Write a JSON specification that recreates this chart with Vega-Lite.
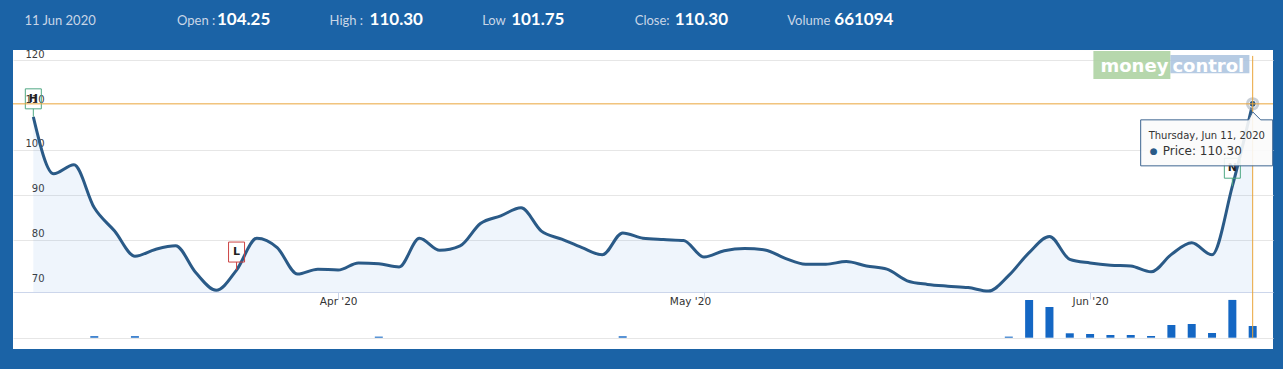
{
  "$schema": "https://vega.github.io/schema/vega-lite/v6.json",
  "background": "#1b63a6",
  "padding": {"left": 12, "right": 11, "top": 0, "bottom": 21},
  "spacing": 0,
  "config": {
    "view": {"stroke": null},
    "axis": {"minExtent": 0, "labelFont": "DejaVu Sans"},
    "text": {"font": "DejaVu Sans"}
  },
  "datasets": {
    "header": [
      {"label": "11 Jun 2020", "value": ""},
      {"label": "Open :", "value": "104.25"},
      {"label": "High :", "value": "110.30"},
      {"label": "Low", "value": "101.75"},
      {"label": "Close:", "value": "110.30"},
      {"label": "Volume", "value": "661094"}
    ],
    "prices": [
      {"date": "2020-03-11", "price": 107.4},
      {"date": "2020-03-12", "price": 94.7},
      {"date": "2020-03-13", "price": 96.7},
      {"date": "2020-03-16", "price": 87.1, "volume": 85000},
      {"date": "2020-03-17", "price": 81.9},
      {"date": "2020-03-18", "price": 76.3, "volume": 85000},
      {"date": "2020-03-19", "price": 77.8},
      {"date": "2020-03-20", "price": 78.6},
      {"date": "2020-03-23", "price": 72.6},
      {"date": "2020-03-24", "price": 68.7},
      {"date": "2020-03-25", "price": 73.2},
      {"date": "2020-03-26", "price": 80.3},
      {"date": "2020-03-27", "price": 78.2},
      {"date": "2020-03-30", "price": 72.3},
      {"date": "2020-03-31", "price": 73.4},
      {"date": "2020-04-01", "price": 73.2},
      {"date": "2020-04-03", "price": 74.8},
      {"date": "2020-04-07", "price": 74.6, "volume": 60000},
      {"date": "2020-04-08", "price": 73.9},
      {"date": "2020-04-09", "price": 80.3},
      {"date": "2020-04-13", "price": 77.6},
      {"date": "2020-04-15", "price": 78.6},
      {"date": "2020-04-16", "price": 83.6},
      {"date": "2020-04-17", "price": 85.3},
      {"date": "2020-04-20", "price": 87.1},
      {"date": "2020-04-21", "price": 81.9},
      {"date": "2020-04-22", "price": 80.1},
      {"date": "2020-04-23", "price": 78.2},
      {"date": "2020-04-24", "price": 76.6},
      {"date": "2020-04-27", "price": 81.5, "volume": 80000},
      {"date": "2020-04-28", "price": 80.3},
      {"date": "2020-04-29", "price": 80.0},
      {"date": "2020-04-30", "price": 79.8},
      {"date": "2020-05-04", "price": 76.1},
      {"date": "2020-05-05", "price": 77.5},
      {"date": "2020-05-06", "price": 78.0},
      {"date": "2020-05-07", "price": 77.7},
      {"date": "2020-05-08", "price": 75.8},
      {"date": "2020-05-11", "price": 74.5},
      {"date": "2020-05-12", "price": 74.5},
      {"date": "2020-05-13", "price": 75.1},
      {"date": "2020-05-14", "price": 74.1},
      {"date": "2020-05-15", "price": 73.4},
      {"date": "2020-05-18", "price": 70.8},
      {"date": "2020-05-19", "price": 70.0},
      {"date": "2020-05-20", "price": 69.6},
      {"date": "2020-05-21", "price": 69.3},
      {"date": "2020-05-22", "price": 68.5},
      {"date": "2020-05-26", "price": 72.0, "volume": 60000},
      {"date": "2020-05-27", "price": 77.1, "volume": 2130000},
      {"date": "2020-05-28", "price": 80.7, "volume": 1735000},
      {"date": "2020-05-29", "price": 75.6, "volume": 249000},
      {"date": "2020-06-01", "price": 74.8, "volume": 209000},
      {"date": "2020-06-02", "price": 74.3, "volume": 153000},
      {"date": "2020-06-03", "price": 74.1, "volume": 153000},
      {"date": "2020-06-04", "price": 72.8, "volume": 96000},
      {"date": "2020-06-05", "price": 76.7, "volume": 718000},
      {"date": "2020-06-08", "price": 79.3, "volume": 774000},
      {"date": "2020-06-09", "price": 76.6, "volume": 266000},
      {"date": "2020-06-10", "price": 91.92, "volume": 2135000},
      {"date": "2020-06-11", "price": 110.3, "volume": 661094}
    ],
    "flags": [
      {"date": "2020-03-11", "price": 107.4, "flag": "H"},
      {"date": "2020-03-25", "price": 73.2, "flag": "L"},
      {"date": "2020-06-10", "price": 91.92, "flag": "N"}
    ],
    "tip": [
      {"date": "2020-06-11", "price": 110.3, "head": "Thursday, Jun 11, 2020", "body": "Price: 110.30"}
    ],
    "brand": [
      {"a": "money", "b": "control"}
    ]
  },
  "vconcat": [
    {
      "width": 1068,
      "height": 49,
      "data": {"name": "header"},
      "layer": [
        {
          "mark": {"type": "text", "align": "left", "baseline": "alphabetic", "font": "Lato", "fontSize": 13, "color": "#c9d6e6"},
          "encoding": {
            "x": {"field": "label", "type": "ordinal", "scale": {"type": "point", "domain": ["11 Jun 2020", "Open :", "High :", "Low", "Close:", "Volume"], "padding": 1, "align": 0.0374, "round": false}, "axis": null},
            "text": {"field": "label"}
          }
        },
        {
          "transform": [{"filter": "datum.label == 'Open :' || datum.label == 'High :' || datum.label == 'Close:'"}],
          "mark": {"type": "text", "align": "left", "baseline": "alphabetic", "font": "Lato", "fontSize": 17, "fontWeight": "bold", "color": "#ffffff", "dx": 40},
          "encoding": {
            "x": {"field": "label", "type": "ordinal", "scale": {"type": "point", "domain": ["11 Jun 2020", "Open :", "High :", "Low", "Close:", "Volume"], "padding": 1, "align": 0.0374, "round": false}, "axis": null},
            "text": {"field": "value"}
          }
        },
        {
          "transform": [{"filter": "datum.label == 'Low'"}],
          "mark": {"type": "text", "align": "left", "baseline": "alphabetic", "font": "Lato", "fontSize": 17, "fontWeight": "bold", "color": "#ffffff", "dx": 29},
          "encoding": {
            "x": {"field": "label", "type": "ordinal", "scale": {"type": "point", "domain": ["11 Jun 2020", "Open :", "High :", "Low", "Close:", "Volume"], "padding": 1, "align": 0.0374, "round": false}, "axis": null},
            "text": {"field": "value"}
          }
        },
        {
          "transform": [{"filter": "datum.label == 'Volume'"}],
          "mark": {"type": "text", "align": "left", "baseline": "alphabetic", "font": "Lato", "fontSize": 17, "fontWeight": "bold", "color": "#ffffff", "dx": 47},
          "encoding": {
            "x": {"field": "label", "type": "ordinal", "scale": {"type": "point", "domain": ["11 Jun 2020", "Open :", "High :", "Low", "Close:", "Volume"], "padding": 1, "align": 0.0374, "round": false}, "axis": null},
            "text": {"field": "value"}
          }
        }
      ]
    },
    {
      "width": 1260,
      "height": 299,
      "view": {"fill": "#ffffff", "stroke": null},
      "resolve": {"scale": {"y": "independent"}},
      "layer": [
        {
          "layer": [
            {
              "data": {"name": "brand"},
              "mark": {"type": "point", "shape": "M-1.56,-0.42 L-0.02,-0.42 L-0.02,0.14 L-1.56,0.14 Z", "size": 10000, "filled": true, "fill": "#a9d09e", "opacity": 0.85, "strokeWidth": 0},
              "encoding": {
                "x": {"datum": "2020-06-05", "type": "ordinal", "scale": {"type": "point", "padding": 1, "round": false}},
                "y": {"datum": 117.4, "type": "quantitative", "scale": {"domain": [55.58, 122.32], "nice": false, "zero": false}}
              }
            },
            {
              "data": {"name": "brand"},
              "mark": {"type": "point", "shape": "M-0.02,-0.34 L1.56,-0.34 L1.56,0.026 L-0.02,0.026 Z", "size": 10000, "filled": true, "fill": "#a9c2de", "opacity": 0.85, "strokeWidth": 0},
              "encoding": {
                "x": {"datum": "2020-06-05", "type": "ordinal"},
                "y": {"datum": 117.4, "type": "quantitative", "scale": {"domain": [55.58, 122.32], "nice": false, "zero": false}}
              }
            },
            {
              "data": {"name": "brand"},
              "mark": {"type": "text", "align": "right", "baseline": "alphabetic", "dx": -3, "font": "DejaVu Sans", "fontSize": 18, "fontWeight": "bold", "color": "#ffffff"},
              "encoding": {
                "x": {"datum": "2020-06-05", "type": "ordinal"},
                "y": {"datum": 117.4, "type": "quantitative", "scale": {"domain": [55.58, 122.32], "nice": false, "zero": false}},
                "text": {"field": "a"}
              }
            },
            {
              "data": {"name": "brand"},
              "mark": {"type": "text", "align": "left", "baseline": "alphabetic", "dx": 1, "font": "DejaVu Sans", "fontSize": 18, "fontWeight": "bold", "color": "#ffffff"},
              "encoding": {
                "x": {"datum": "2020-06-05", "type": "ordinal"},
                "y": {"datum": 117.4, "type": "quantitative", "scale": {"domain": [55.58, 122.32], "nice": false, "zero": false}},
                "text": {"field": "b"}
              }
            },
            {
              "data": {"name": "prices"},
              "mark": {"type": "area", "interpolate": "monotone", "fill": "#2f7ed8", "fillOpacity": 0.08, "strokeWidth": 0},
              "encoding": {
                "x": {
                  "field": "date", "type": "ordinal",
                  "scale": {"type": "point", "padding": 1, "round": false},
                  "axis": {
                    "orient": "bottom", "offset": -57,
                    "values": ["2020-04-01", "2020-05-04", "2020-06-01"],
                    "labelExpr": "datum.value == '2020-04-01' ? \"Apr '20\" : (datum.value == '2020-05-04' ? \"May '20\" : \"Jun '20\")",
                    "labelOffset": {"condition": {"test": "datum.value == '2020-05-04'", "value": -14}, "value": 0},
                    "labelAlign": "center",
                    "labelAngle": 0, "labelPadding": 2, "labelFontSize": 10.5, "labelColor": "#333333",
                    "domainColor": "#ccd6eb", "tickColor": "#ccd6eb", "tickSize": 7, "grid": false, "title": null
                  }
                },
                "y": {
                  "field": "price", "type": "quantitative",
                  "scale": {"domain": [55.58, 122.32], "nice": false, "zero": false},
                  "axis": {
                    "orient": "left", "values": [70, 80, 90, 100, 110, 120],
                    "grid": true,
                    "gridColor": {"condition": {"test": "datum.value == 70 || datum.value == 110", "value": "transparent"}, "value": "#e6e6e6"},
                    "domain": false, "ticks": false, "tickSize": 0,
                    "labelPadding": -31, "labelAlign": "right", "labelBaseline": "alphabetic", "labelOffset": -3,
                    "labelFontSize": 10, "labelColor": "#3a3a3a", "title": null, "minExtent": 0
                  }
                },
                "y2": {"datum": 68.3}
              }
            },
            {
              "data": {"name": "prices"},
              "mark": {"type": "line", "interpolate": "monotone", "stroke": "#2a5a87", "strokeWidth": 3},
              "encoding": {
                "x": {"field": "date", "type": "ordinal"},
                "y": {"field": "price", "type": "quantitative", "scale": {"domain": [55.58, 122.32], "nice": false, "zero": false}}
              }
            },
            {
              "data": {"name": "flags"},
              "mark": {"type": "point", "shape": "M0,0 L0,-0.8 M-0.8,-0.8 L0.8,-0.8 L0.8,-2.8 L-0.8,-2.8 Z", "size": 400, "filled": false, "fill": "#ffffff", "fillOpacity": 0, "strokeWidth": 1, "opacity": 1},
              "encoding": {
                "x": {"field": "date", "type": "ordinal"},
                "y": {"field": "price", "type": "quantitative", "scale": {"domain": [55.58, 122.32], "nice": false, "zero": false}},
                "stroke": {"field": "flag", "type": "nominal", "scale": {"domain": ["H", "L", "N"], "range": ["#4fa883", "#cc4444", "#4fa883"]}, "legend": null}
              }
            },
            {
              "data": {"name": "flags"},
              "mark": {"type": "text", "align": "center", "baseline": "middle", "dy": -18, "font": "DejaVu Sans", "fontSize": 11, "fontWeight": "bold", "color": "#222222"},
              "encoding": {
                "x": {"field": "date", "type": "ordinal"},
                "y": {"field": "price", "type": "quantitative", "scale": {"domain": [55.58, 122.32], "nice": false, "zero": false}},
                "text": {"field": "flag"}
              }
            }
          ]
        },
        {
          "data": {"name": "prices"},
          "transform": [{"filter": "isValid(datum.volume)"}],
          "mark": {"type": "bar", "size": 8, "color": "#1467c4"},
          "encoding": {
            "x": {"field": "date", "type": "ordinal"},
            "y": {
              "field": "volume", "type": "quantitative",
              "scale": {"domain": [-638450, 16255050], "nice": false, "zero": false},
              "axis": {"orient": "right", "values": [0], "grid": true, "gridColor": "#e6e6e6", "labels": false, "ticks": false, "domain": false, "title": null, "minExtent": 0}
            },
            "y2": {"datum": 0}
          }
        },
        {
          "data": {"name": "tip"},
          "layer": [
            {
              "mark": {"type": "point", "shape": "circle", "size": 180, "filled": true, "fill": "#9aa5b3", "opacity": 0.55, "strokeWidth": 0},
              "encoding": {
                "x": {"field": "date", "type": "ordinal"},
                "y": {"field": "price", "type": "quantitative", "scale": {"domain": [55.58, 122.32], "nice": false, "zero": false}, "axis": null}
              }
            },
            {
              "mark": {"type": "point", "shape": "circle", "size": 50, "filled": true, "fill": "#2a5a87", "stroke": "#ffffff", "strokeWidth": 1, "opacity": 1},
              "encoding": {
                "x": {"field": "date", "type": "ordinal"},
                "y": {"field": "price", "type": "quantitative", "scale": {"domain": [55.58, 122.32], "nice": false, "zero": false}, "axis": null}
              }
            },
            {
              "mark": {"type": "rule", "color": "#eaa53a", "strokeWidth": 1},
              "encoding": {
                "y": {"field": "price", "type": "quantitative", "scale": {"domain": [55.58, 122.32], "nice": false, "zero": false}, "axis": null}
              }
            },
            {
              "mark": {"type": "rule", "color": "#eaa53a", "strokeWidth": 1},
              "encoding": {
                "x": {"field": "date", "type": "ordinal"},
                "y": {"datum": 121, "type": "quantitative", "scale": {"domain": [55.58, 122.32], "nice": false, "zero": false}, "axis": null},
                "y2": {"datum": 58}
              }
            },
            {
              "mark": {"type": "point", "shape": "M-2.24,0.32 L-0.08,0.32 L0,0.16 L0.16,0.32 L0.4,0.32 L0.4,1.24 L-2.24,1.24 Z", "size": 10000, "filled": true, "fill": "#fbfbfb", "fillOpacity": 0.9, "stroke": "#3d6590", "strokeWidth": 1, "opacity": 1},
              "encoding": {
                "x": {"field": "date", "type": "ordinal"},
                "y": {"field": "price", "type": "quantitative", "scale": {"domain": [55.58, 122.32], "nice": false, "zero": false}, "axis": null}
              }
            },
            {
              "mark": {"type": "text", "align": "left", "baseline": "alphabetic", "dx": -104, "dy": 35, "font": "DejaVu Sans", "fontSize": 10, "color": "#333333"},
              "encoding": {
                "x": {"field": "date", "type": "ordinal"},
                "y": {"field": "price", "type": "quantitative", "scale": {"domain": [55.58, 122.32], "nice": false, "zero": false}, "axis": null},
                "text": {"field": "head"}
              }
            },
            {
              "mark": {"type": "text", "align": "center", "baseline": "middle", "dx": -99, "dy": 47, "font": "DejaVu Sans", "fontSize": 9, "color": "#2a5a87", "text": "●"},
              "encoding": {
                "x": {"field": "date", "type": "ordinal"},
                "y": {"field": "price", "type": "quantitative", "scale": {"domain": [55.58, 122.32], "nice": false, "zero": false}, "axis": null}
              }
            },
            {
              "mark": {"type": "text", "align": "left", "baseline": "alphabetic", "dx": -90, "dy": 51, "font": "DejaVu Sans", "fontSize": 12, "color": "#333333"},
              "encoding": {
                "x": {"field": "date", "type": "ordinal"},
                "y": {"field": "price", "type": "quantitative", "scale": {"domain": [55.58, 122.32], "nice": false, "zero": false}, "axis": null},
                "text": {"field": "body"}
              }
            }
          ]
        }
      ]
    }
  ]
}
